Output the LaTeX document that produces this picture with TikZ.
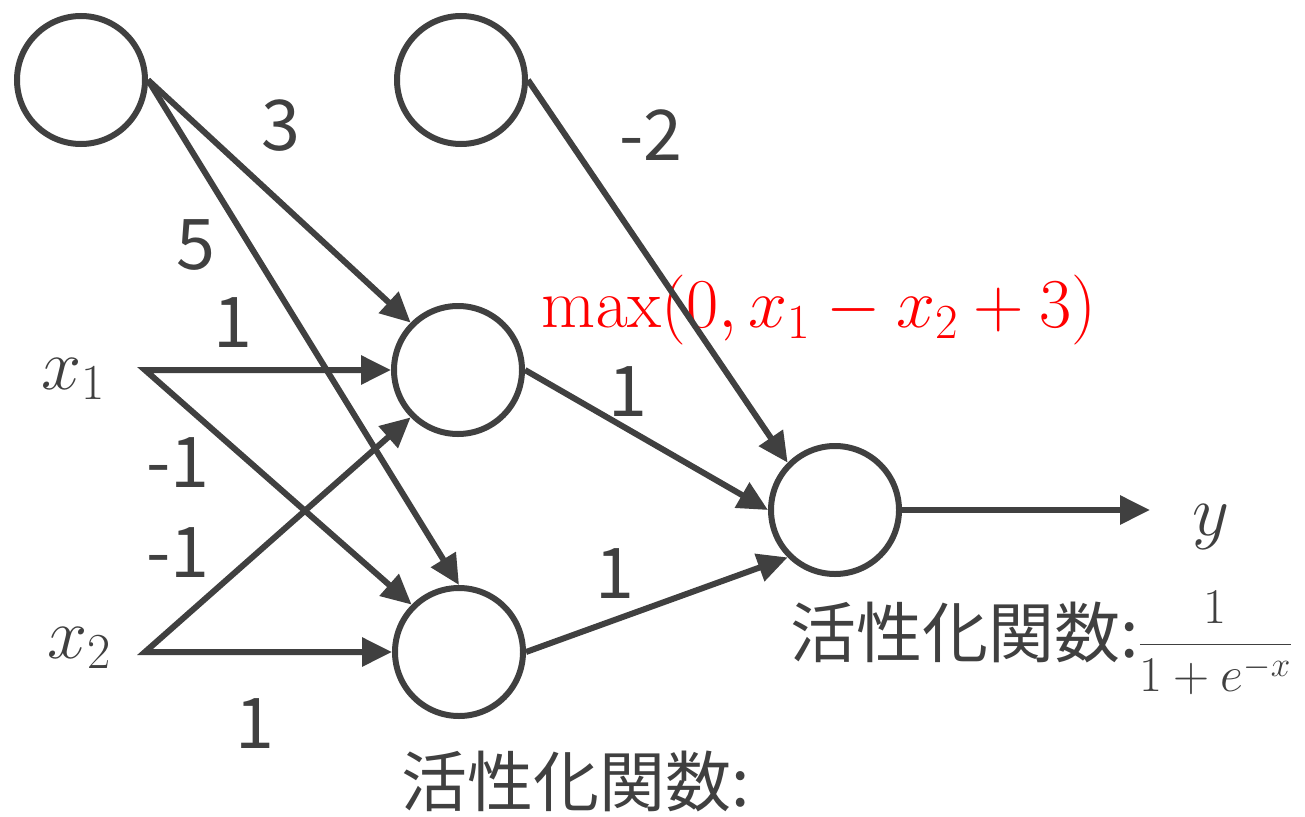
\RequirePackage{fix-cm}
\documentclass[tikz,border=0pt]{standalone}
\usepackage[no-math]{fontspec}
\setmainfont{Noto Sans CJK JP}
\usetikzlibrary{arrows.meta}
\definecolor{dg}{HTML}{404040}
\begin{document}
\begin{tikzpicture}[x=1pt,y=-1pt,
  neuron/.style={circle,draw=dg,line width=6pt,minimum size=128pt,inner sep=0pt},
  tip/.tip={Triangle[length=30pt,width=28pt]},
  conn/.style={draw=dg,line width=6pt,-tip},
  wlabel/.style={text=dg,font=\fontsize{70}{70}\selectfont,inner sep=0pt},
  mlabel/.style={text=dg,font=\fontsize{72}{72}\selectfont,inner sep=0pt},
  jlabel/.style={text=dg,font=\fontsize{66}{66}\selectfont,inner sep=0pt}]
\useasboundingbox (0,0) rectangle (1305,816);
% neurons
\node[neuron] (A) at (81,80) {};
\node[neuron] (B) at (461,80) {};
\node[neuron] (H1) at (458,370) {};
\node[neuron] (H2) at (459,652) {};
\node[neuron] (O) at (835,510) {};
% inputs
\node[mlabel,anchor=base west] (x1) at (41,389) {$x_1$};
\node[mlabel,anchor=base west] (x2) at (47,658) {$x_2$};
\coordinate (x1s) at (145,370);
\coordinate (x2s) at (145,652);
\node[mlabel,anchor=base] (y) at (1211,535) {$y$};
\coordinate (yend) at (1150,510);
% red formula (below the lines)
\node[text=red,font=\fontsize{70}{70}\selectfont,inner sep=0pt] (relu) at (819,310) {$\mathrm{max}(0,x_1-x_2+3)$};
% connectors
\draw[conn] (A.east) -- (H1.north west);
\draw[conn] (A.east) -- (H2.north);
\draw[draw=dg,line width=6pt,tip-tip,line join=miter] (H2.north west) -- (x1s) -- (H1.west);
\draw[draw=dg,line width=6pt,tip-tip,line join=miter] (H1.south west) -- (x2s) -- (H2.west);
\draw[conn] (B.east) -- (O.north west);
\draw[conn] (H1.east) -- (O.west);
\draw[conn] (H2.east) -- (O.south west);
\draw[conn] (O.east) -- (yend);
% weights
\node[wlabel] (w3) at (281,126) {3};
\node[wlabel] (w5) at (196,245) {5};
\node[wlabel] (w11) at (233,323) {1};
\node[wlabel] (w12) at (178,463) {-1};
\node[wlabel] (w21) at (178,553) {-1};
\node[wlabel] (w22) at (255,724) {1};
\node[wlabel] (wb) at (651,135) {-2};
\node[wlabel] (wh1) at (628,392) {1};
\node[wlabel] (wh2) at (615,574) {1};
% activation labels
\node[jlabel] (act1) at (576,781) {活性化関数:};
\node[jlabel,anchor=base west] (act2) at (790,657) {活性化関数:{\fontsize{50}{50}\selectfont$\displaystyle\frac{1}{1+e^{-x}}$}};
\end{tikzpicture}
\end{document}
